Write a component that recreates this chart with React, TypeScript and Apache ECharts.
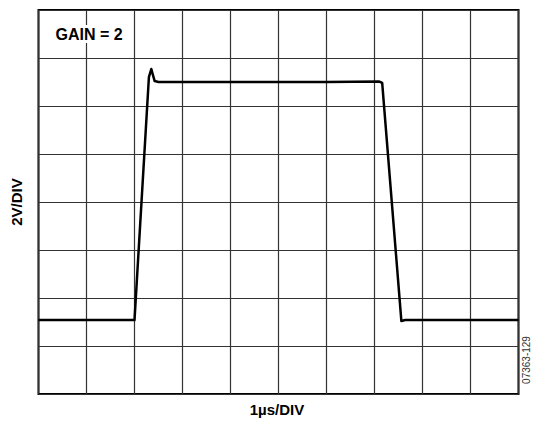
import React, { useEffect, useRef } from "react";
import * as echarts from "echarts";

// Time in divisions (1 µs/DIV), voltage in divisions (2 V/DIV)
const timeDiv = [0, 2.0, 2.3, 2.35, 2.42, 2.5, 4.0, 6.0, 7.1, 7.16, 7.56, 7.64, 8.5, 10];
const voltDiv = [1.54, 1.54, 6.6, 6.77, 6.52, 6.5, 6.5, 6.5, 6.51, 6.48, 1.52, 1.54, 1.54, 1.54];

const xTicks = [0, 10, 1];
const yTicks = [0, 8, 1];

const title = "GAIN = 2";
const xName = "1µs/DIV";
const yName = "2V/DIV";
const figId = "07363-129";

export default function App() {
  const ref = useRef<HTMLDivElement>(null);
  useEffect(() => {
    if (!ref.current) return;
    const chart = echarts.init(ref.current, null, { renderer: "svg" });
    const data = timeDiv.map((t, i) => [t, voltDiv[i]]);
    chart.setOption({
      animation: false,
      grid: {
        left: 38.5,
        top: 10,
        width: 480,
        height: 384,
        show: true,
        borderColor: "#000",
        borderWidth: 2,
        backgroundColor: "transparent",
      },
      xAxis: {
        type: "value",
        min: xTicks[0],
        max: xTicks[1],
        interval: xTicks[2],
        axisLine: { show: false },
        axisTick: { show: false },
        axisLabel: { show: false },
        splitLine: { show: true, lineStyle: { color: "#333", width: 1.2 } },
      },
      yAxis: {
        type: "value",
        min: yTicks[0],
        max: yTicks[1],
        interval: yTicks[2],
        axisLine: { show: false },
        axisTick: { show: false },
        axisLabel: { show: false },
        splitLine: { show: true, lineStyle: { color: "#333", width: 1.2 } },
      },
      series: [
        {
          type: "line",
          data,
          symbol: "none",
          lineStyle: { color: "#000", width: 2.5, join: "round" },
          z: 5,
        },
      ],
      graphic: [
        {
          type: "rect",
          shape: { x: 52, y: 25, width: 74, height: 18 },
          style: { fill: "#fff" },
          z: 10,
        },
        {
          type: "text",
          x: 89,
          y: 34,
          style: {
            text: title,
            font: "bold 16px 'Liberation Sans', Arial, sans-serif",
            fill: "#000",
            align: "center",
            verticalAlign: "middle",
          },
          z: 11,
        },
        {
          type: "text",
          x: 277,
          y: 409,
          style: {
            text: xName,
            font: "bold 15px 'Liberation Sans', Arial, sans-serif",
            fill: "#000",
            align: "center",
            verticalAlign: "middle",
          },
        },
        {
          type: "text",
          x: 16,
          y: 202,
          rotation: Math.PI / 2,
          style: {
            text: yName,
            font: "bold 15px 'Liberation Sans', Arial, sans-serif",
            fill: "#000",
            align: "center",
            verticalAlign: "middle",
          },
        },
        {
          type: "text",
          x: 526,
          y: 360,
          rotation: Math.PI / 2,
          style: {
            text: figId,
            font: "10px 'Liberation Sans', Arial, sans-serif",
            fill: "#333",
            align: "center",
            verticalAlign: "middle",
          },
        },
      ],
    });
    return () => chart.dispose();
  }, []);
  return <div ref={ref} style={{ width: 540, height: 422, position: "absolute", left: 0, top: 0 }} />;
}
